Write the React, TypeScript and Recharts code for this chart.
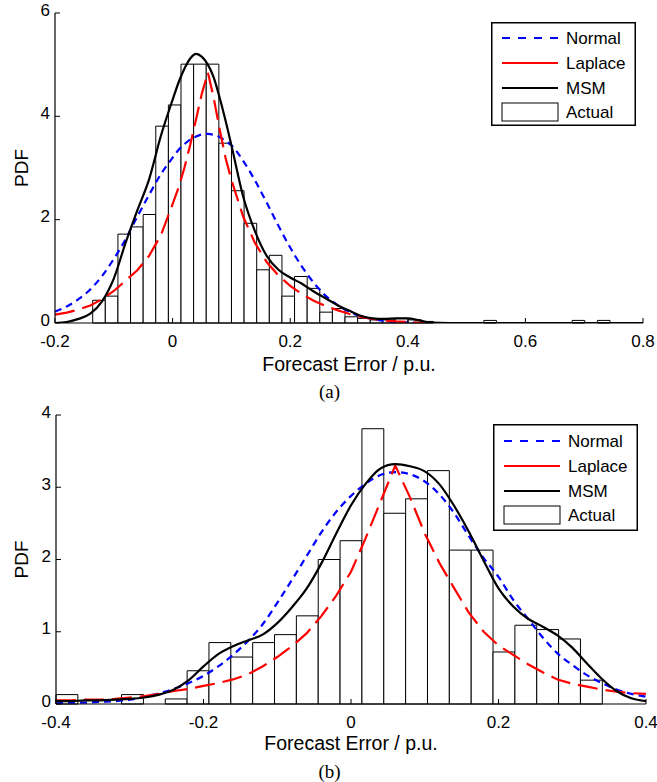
import { ComposedChart, Line, XAxis, YAxis, ReferenceArea, Legend } from "recharts";

const FONT = '"Liberation Sans", Arial, Helvetica, sans-serif';

// ---- panel (a) ----
const topX = [
  -0.2, -0.18, -0.16, -0.14, -0.12, -0.1, -0.08, -0.06, -0.04, -0.02, 0, 0.01, 0.02, 0.03, 0.04, 0.05, 0.06,
  0.07, 0.08, 0.09, 0.1, 0.12, 0.14, 0.16, 0.18, 0.2, 0.22, 0.24, 0.26, 0.28, 0.3, 0.32, 0.34, 0.36, 0.38,
  0.4, 0.42, 0.44, 0.5, 0.6, 0.7, 0.8,
];
const topNormal = [
  0.22, 0.32, 0.46, 0.65, 0.91, 1.24, 1.62, 2.06, 2.48, 2.88, 3.2, 3.35, 3.46, 3.55, 3.61, 3.65, 3.66,
  3.64, 3.6, 3.52, 3.44, 3.14, 2.76, 2.33, 1.88, 1.46, 1.09, 0.78, 0.53, 0.35, 0.22, 0.13, 0.08, 0.04, 0.02,
  0.01, 0, 0, 0, 0, 0, 0,
];
const topLaplace = [
  0.16, 0.2, 0.26, 0.34, 0.46, 0.62, 0.82, 1.02, 1.3, 1.7, 2.3, 2.62, 3.0, 3.45, 3.95, 4.45, 4.85,
  4.35, 3.75, 3.2, 2.77, 2.06, 1.55, 1.18, 0.92, 0.72, 0.56, 0.43, 0.33, 0.25, 0.18, 0.12, 0.08, 0.05, 0.03,
  0.02, 0.01, 0, 0, 0, 0, 0,
];
const topMsm = [
  0.0, 0.02, 0.08, 0.18, 0.42, 0.86, 1.55, 2.18, 2.78, 3.62, 4.32, 4.65, 4.92, 5.12, 5.21, 5.15, 5.0,
  4.75, 4.36, 3.92, 3.44, 2.45, 1.78, 1.3, 1.03, 0.88, 0.76, 0.61, 0.48, 0.35, 0.24, 0.14, 0.09, 0.08, 0.09,
  0.09, 0.05, 0.01, 0, 0, 0, 0,
];
const topBinStart = -0.1359;
const topBinWidth = 0.021457;
const topHist = [
  0.44, 0.52, 1.72, 1.86, 2.1, 3.81, 4.22, 5.01, 5.01, 5.01, 3.48, 2.56, 1.93, 1.03, 1.31, 0.52, 0.9, 0.67,
  0.21, 0.28, 0.12, 0.09, 0.06, 0.06, 0.09, 0.06, 0.03, 0, 0, 0, 0, 0.05, 0, 0, 0, 0, 0, 0, 0.05, 0, 0.05,
];
const topXTicks = [-0.2, 0, 0.2, 0.4, 0.6, 0.8];
const topYTicks = [0, 2, 4, 6];

// ---- panel (b) ----
const botX = [
  -0.4, -0.38, -0.36, -0.34, -0.32, -0.3, -0.28, -0.26, -0.24, -0.22, -0.2, -0.18, -0.16, -0.14, -0.12, -0.1,
  -0.08, -0.06, -0.04, -0.02, 0, 0.02, 0.04, 0.06, 0.08, 0.1, 0.12, 0.14, 0.16, 0.18, 0.2, 0.22, 0.24, 0.26,
  0.28, 0.3, 0.32, 0.34, 0.36, 0.38, 0.4,
];
const botNormal = [
  0.01, 0.02, 0.02, 0.03, 0.04, 0.06, 0.1, 0.15, 0.21, 0.29, 0.39, 0.52, 0.68, 0.87, 1.1, 1.4,
  1.72, 2.05, 2.38, 2.66, 2.88, 3.05, 3.17, 3.21, 3.18, 3.08, 2.9, 2.64, 2.32, 2.02, 1.76, 1.44, 1.18, 0.92,
  0.7, 0.54, 0.4, 0.29, 0.2, 0.14, 0.1,
];
const botLaplace = [
  0.05, 0.05, 0.06, 0.06, 0.07, 0.09, 0.11, 0.14, 0.18, 0.21, 0.25, 0.29, 0.34, 0.41, 0.52, 0.65,
  0.8, 0.98, 1.22, 1.5, 1.83, 2.3, 2.8, 3.3, 2.86, 2.36, 1.95, 1.6, 1.26, 1.0, 0.81, 0.68, 0.55, 0.44,
  0.34, 0.28, 0.24, 0.2, 0.17, 0.15, 0.14,
];
const botMsm = [
  0.04, 0.04, 0.05, 0.05, 0.06, 0.07, 0.09, 0.13, 0.2, 0.33, 0.52, 0.69, 0.8, 0.88, 0.96, 1.12,
  1.34, 1.6, 1.95, 2.36, 2.75, 3.05, 3.26, 3.32, 3.29, 3.22, 3.04, 2.74, 2.38, 1.98, 1.6, 1.35, 1.18, 1.07,
  0.95, 0.78, 0.56, 0.35, 0.18, 0.08, 0.04,
];
const botBinStart = -0.4;
const botBinWidth = 0.02963;
const botHist = [
  0.13, 0, 0, 0.13, 0, 0.07, 0.46, 0.85, 0.65, 0.85, 0.96, 1.22, 2.0, 2.26, 3.81, 2.64, 2.84, 3.23, 2.13,
  2.13, 0.72, 1.09, 1.03, 0.9, 0.33,
];
const botXTicks = [-0.4, -0.2, 0, 0.2, 0.4];
const botYTicks = [0, 1, 2, 3, 4];

const legendNames = ["Normal", "Laplace", "MSM", "Actual"];
const legendColors = ["#0000ff", "#ff0000", "#000000", "#000000"];

function LegendBox({ h, rows }: { h: number; rows: number[] }) {
  return (
    <svg width={145} height={h} style={{ display: "block" }}>
      <rect x={0.75} y={0.75} width={143.5} height={h - 1.5} fill="#fff" stroke="#000" strokeWidth={1.5} />
      {legendNames.map((name, i) => {
        const y = rows[i];
        return (
          <g key={name}>
            {i === 3 ? (
              <rect x={11} y={y - 9} width={56} height={18} fill="#fff" stroke="#000" strokeWidth={1} />
            ) : (
              <line
                x1={11}
                x2={67}
                y1={y}
                y2={y}
                stroke={legendColors[i]}
                strokeWidth={2.2}
                strokeDasharray={i === 0 ? "8 8" : undefined}
              />
            )}
            <text x={75} y={y} dominantBaseline="central" fontFamily={FONT} fontSize={17} fill="#000">
              {name}
            </text>
          </g>
        );
      })}
    </svg>
  );
}

const PdfTitle = (props: any) => {
  const vb = props.viewBox;
  const cx = 21;
  const cy = vb.y + vb.height / 2;
  return (
    <text
      x={cx}
      y={cy}
      transform={`rotate(-90 ${cx} ${cy})`}
      textAnchor="middle"
      dominantBaseline="central"
      fontFamily={FONT}
      fontSize={19}
      fill="#000"
    >
      PDF
    </text>
  );
};

// y tick labels sit a touch above their tick, as in the original
const YTick = (props: any) => (
  <text
    x={props.x}
    y={props.y - 3}
    textAnchor="end"
    dominantBaseline="central"
    fontFamily={FONT}
    fontSize={17}
    fill="#000"
  >
    {props.payload.value}
  </text>
);

type PanelProps = {
  xs: number[];
  normal: number[];
  laplace: number[];
  msm: number[];
  binStart: number;
  binWidth: number;
  hist: number[];
  xDomain: [number, number];
  yDomain: [number, number];
  xTicks: number[];
  yTicks: number[];
  height: number;
  margin: { top: number; right: number; bottom: number; left: number };
  yAxisWidth: number;
  legendPos: { left: number; top: number; h: number; rows: number[] };
  titleOffset: number;
};

function Panel(p: PanelProps) {
  const data = p.xs.map((x, i) => ({ x, normal: p.normal[i], laplace: p.laplace[i], msm: p.msm[i] }));
  const tickStyle = { fill: "#000", fontSize: 17, fontFamily: FONT };
  const axisLine = { stroke: "#000", strokeWidth: 1.2 };
  return (
    <ComposedChart width={657} height={p.height} data={data} margin={p.margin}>
      {p.hist.map((h, i) =>
        h > 0 ? (
          <ReferenceArea
            key={"b" + i}
            x1={p.binStart + i * p.binWidth}
            x2={p.binStart + (i + 1) * p.binWidth}
            y1={0}
            y2={h}
            fill="#fff"
            fillOpacity={1}
            stroke="#000"
            strokeWidth={1}
            ifOverflow="visible"
          />
        ) : null
      )}
      <XAxis
        dataKey="x"
        type="number"
        domain={p.xDomain}
        ticks={p.xTicks}
        allowDataOverflow
        height={22}
        tickSize={-5}
        tickMargin={17}
        tick={tickStyle}
        axisLine={axisLine}
        tickLine={{ stroke: "#000" }}
        label={{
          value: "Forecast Error / p.u.",
          position: "bottom",
          offset: p.titleOffset,
          fill: "#000",
          fontSize: 19.5,
          fontFamily: FONT,
        }}
      />
      <XAxis
        xAxisId="top"
        orientation="top"
        type="number"
        domain={p.xDomain}
        ticks={p.xTicks}
        allowDataOverflow
        height={0}
        tickSize={-5}
        tickFormatter={() => ""}
        axisLine={axisLine}
        tickLine={{ stroke: "#000" }}
      />
      <YAxis
        type="number"
        domain={p.yDomain}
        ticks={p.yTicks}
        allowDataOverflow
        width={p.yAxisWidth}
        tickSize={-5}
        tickMargin={10}
        tick={<YTick />}
        axisLine={axisLine}
        tickLine={{ stroke: "#000" }}
        label={{ content: PdfTitle }}
      />
      <YAxis
        yAxisId="right"
        orientation="right"
        type="number"
        domain={p.yDomain}
        ticks={p.yTicks}
        width={0}
        tickSize={-5}
        tickFormatter={() => ""}
        axisLine={axisLine}
        tickLine={{ stroke: "#000" }}
      />
      <Line
        type="monotone"
        dataKey="normal"
        stroke="#0000ff"
        strokeWidth={2.2}
        strokeDasharray="7 5"
        dot={false}
        isAnimationActive={false}
      />
      <Line
        type="linear"
        dataKey="laplace"
        stroke="#ff0000"
        strokeWidth={2.2}
        strokeDasharray="20 8"
        dot={false}
        isAnimationActive={false}
      />
      <Line type="monotone" dataKey="msm" stroke="#000" strokeWidth={2.2} dot={false} isAnimationActive={false} />
      <Legend
        layout="vertical"
        align="center"
        verticalAlign="middle"
        wrapperStyle={{ left: p.legendPos.left, top: p.legendPos.top, width: 145, height: p.legendPos.h }}
        content={() => <LegendBox h={p.legendPos.h} rows={p.legendPos.rows} />}
      />
    </ComposedChart>
  );
}

const captionStyle = {
  position: "absolute" as const,
  left: 0,
  width: 657,
  textAlign: "center" as const,
  fontFamily: '"Liberation Serif", "Times New Roman", serif',
  fontSize: 19,
  lineHeight: "22px",
  color: "#000",
};

export default function App() {
  return (
    <div style={{ position: "absolute", left: 0, top: 0, width: 657, height: 782, background: "#fff" }}>
      <div style={{ position: "absolute", left: 0, top: 0 }}>
        <Panel
          xs={topX}
          normal={topNormal}
          laplace={topLaplace}
          msm={topMsm}
          binStart={topBinStart}
          binWidth={topBinWidth}
          hist={topHist}
          xDomain={[-0.2, 0.8]}
          yDomain={[0, 6]}
          xTicks={topXTicks}
          yTicks={topYTicks}
          height={400}
          margin={{ top: 13, right: 14, bottom: 55, left: 0 }}
          yAxisWidth={55}
          legendPos={{ left: 491, top: 22, h: 104, rows: [16, 41, 66, 90] }}
          titleOffset={12}
        />
      </div>
      <div style={{ ...captionStyle, top: 381 }}>
        <span style={{ position: "relative", left: 1 }}>(a)</span>
      </div>
      <div style={{ position: "absolute", left: 0, top: 400 }}>
        <Panel
          xs={botX}
          normal={botNormal}
          laplace={botLaplace}
          msm={botMsm}
          binStart={botBinStart}
          binWidth={botBinWidth}
          hist={botHist}
          xDomain={[-0.4, 0.4]}
          yDomain={[0, 4]}
          xTicks={botXTicks}
          yTicks={botYTicks}
          height={382}
          margin={{ top: 15, right: 11, bottom: 56, left: 0 }}
          yAxisWidth={56}
          legendPos={{ left: 493, top: 24, h: 107, rows: [17, 42, 67, 91] }}
          titleOffset={10}
        />
      </div>
      <div style={{ ...captionStyle, top: 761 }}>
        <span style={{ position: "relative", left: 1 }}>(b)</span>
      </div>
    </div>
  );
}
